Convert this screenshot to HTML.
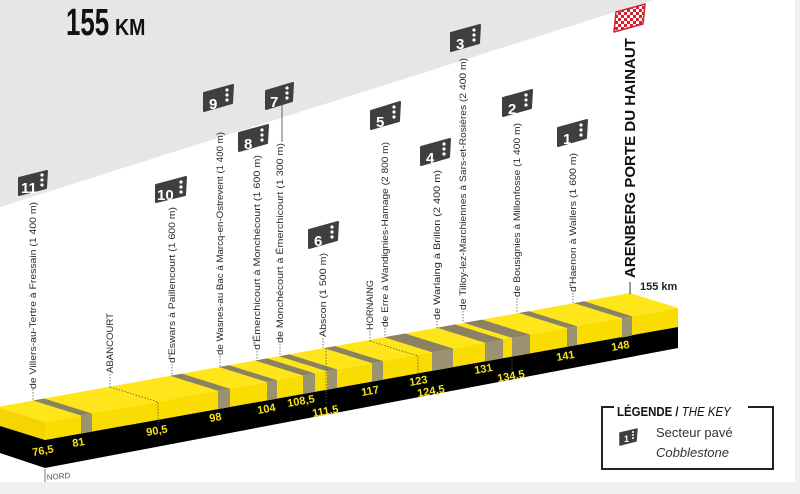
<!DOCTYPE html>
<html><head><meta charset="utf-8"><style>
html,body{margin:0;padding:0;background:#fff;}
svg{display:block;font-family:"Liberation Sans",sans-serif;}
</style></head><body>
<svg width="800" height="494" viewBox="0 0 800 494" xmlns="http://www.w3.org/2000/svg">
<defs>
<pattern id="chk" width="6" height="6" patternUnits="userSpaceOnUse">
<rect width="6" height="6" fill="#fff"/><rect width="3" height="3" fill="#d4202c"/><rect x="3" y="3" width="3" height="3" fill="#d4202c"/>
</pattern>
<g id="dots"><circle cx="0" cy="0" r="1.6" fill="#fff"/><circle cx="0" cy="5" r="1.6" fill="#fff"/><circle cx="0" cy="10" r="1.6" fill="#fff"/></g>
</defs>
<rect width="800" height="494" fill="#fff"/>
<polygon points="0,0 653,0 0,207" fill="#e6e6e6"/>
<rect x="795" y="0" width="5" height="494" fill="#f0f0f0"/>
<rect x="0" y="482" width="800" height="12" fill="#f0f0f0"/>

<!-- title -->
<text x="66" y="35" font-size="38" font-weight="bold" fill="#111" transform="translate(66,0) scale(0.68,1) translate(-66,0)">155</text>
<text x="115" y="35" font-size="23" font-weight="bold" fill="#111" transform="translate(115,0) scale(0.85,1) translate(-115,0)">KM</text>

<!-- profile -->
<polygon points="-3,407 630,293 678,308 45,422" fill="#ffe61a"/>
<polygon points="45,422 678,308 678,327 45,440" fill="#f9dc00"/>
<polygon points="45,440 678,327 678,348 45,468" fill="#000"/>
<polygon points="-3,407 45,422 45,440 -3,425" fill="#f5d400"/>
<polygon points="-3,425 45,440 45,468 -3,452" fill="#000"/>

<g fill="#8a8262">
<polygon points="33,400.5 44,398.5 92,413.5 81,415.5"/>
<polygon points="170,375.8 182,373.7 230,388.7 218,390.8"/>
<polygon points="219,367 229,365.2 277,380.2 267,382"/>
<polygon points="255,360.5 267,358.4 315,373.4 303,375.5"/>
<polygon points="279,356.2 289,354.4 337,369.4 327,371.2"/>
<polygon points="324,348.1 335,346.1 383,361.1 372,363.1"/>
<polygon points="384,337.3 405,333.5 453,348.5 432,352.3"/>
<polygon points="437,327.8 455,324.5 503,339.5 485,342.8"/>
<polygon points="464,322.9 482,319.6 530,334.6 512,337.9"/>
<polygon points="519,313 529,311.2 577,326.2 567,328"/>
<polygon points="574,303.1 584,301.2 632,316.2 622,318.1"/>
</g>
<g fill="#9a9270">
<polygon points="81,415.5 92,413.5 92,431.6 81,433.6"/>
<polygon points="218,390.8 230,388.7 230,407 218,409.1"/>
<polygon points="267,382 277,380.2 277,398.6 267,400.4"/>
<polygon points="303,375.5 315,373.4 315,391.8 303,393.9"/>
<polygon points="327,371.2 337,369.4 337,387.9 327,389.7"/>
<polygon points="372,363.1 383,361.1 383,379.7 372,381.6"/>
<polygon points="432,352.3 453,348.5 453,367.2 432,370.9"/>
<polygon points="485,342.8 503,339.5 503,358.2 485,361.5"/>
<polygon points="512,337.9 530,334.6 530,353.4 512,356.6"/>
<polygon points="567,328 577,326.2 577,345 567,346.8"/>
<polygon points="622,318.1 632,316.2 632,335.6 622,337.6"/>
</g>

<!-- dotted leaders -->
<g stroke="#555" stroke-width="0.8" stroke-dasharray="1.5,1.5" fill="none">
<line x1="33" y1="389" x2="33" y2="400"/>
<line x1="110" y1="374" x2="110" y2="387"/>
<polyline points="110,387 158,402 158,425"/>
<line x1="172" y1="364" x2="172" y2="376"/>
<line x1="220" y1="356" x2="220" y2="367"/>
<line x1="257" y1="351" x2="257" y2="360"/>
<line x1="280" y1="344" x2="280" y2="356"/>
<line x1="323" y1="338" x2="323" y2="348"/>
<line x1="326" y1="348" x2="326" y2="405"/>
<line x1="370" y1="331" x2="370" y2="341"/>
<polyline points="370,341 418,356 418,376"/>
<line x1="385" y1="328" x2="385" y2="337"/>
<line x1="437" y1="321" x2="437" y2="328"/>
<line x1="463" y1="311" x2="463" y2="323"/>
<line x1="517" y1="298" x2="517" y2="313"/>
<line x1="512" y1="356" x2="512" y2="372"/>
<line x1="573" y1="293" x2="573" y2="303"/>
</g>
<line x1="630" y1="282" x2="630" y2="294" stroke="#333" stroke-width="1"/>
<line x1="45" y1="469" x2="45" y2="482" stroke="#555" stroke-width="0.8"/>
<line x1="282" y1="104" x2="282" y2="142" stroke="#444" stroke-width="0.8"/>

<!-- km labels -->
<g fill="#f4e21a" font-size="11" font-weight="bold">
<text x="33" y="456" transform="rotate(-10 33 456)">76,5</text>
<text x="73" y="447" transform="rotate(-10 73 447)">81</text>
<text x="147" y="436" transform="rotate(-10 147 436)">90,5</text>
<text x="210" y="422" transform="rotate(-10 210 422)">98</text>
<text x="258" y="414" transform="rotate(-10 258 414)">104</text>
<text x="288" y="407" transform="rotate(-10 288 407)">108,5</text>
<text x="313" y="417" transform="rotate(-10 313 417)">111,5</text>
<text x="362" y="396" transform="rotate(-10 362 396)">117</text>
<text x="410" y="386" transform="rotate(-10 410 386)">123</text>
<text x="418" y="397" transform="rotate(-10 418 397)">124,5</text>
<text x="475" y="374" transform="rotate(-10 475 374)">131</text>
<text x="498" y="382" transform="rotate(-10 498 382)">134,5</text>
<text x="557" y="361" transform="rotate(-10 557 361)">141</text>
<text x="612" y="351" transform="rotate(-10 612 351)">148</text>
</g>
<text x="47" y="480" font-size="8" fill="#555" transform="rotate(-5 47 480)">NORD</text>
<text x="640" y="290" font-size="11" font-weight="bold" fill="#222">155 km</text>

<!-- vertical labels -->
<g font-size="9.5" fill="#2a2a2a">
<text transform="translate(36,389) rotate(-90)" textLength="187" lengthAdjust="spacingAndGlyphs">de Villers-au-Tertre à Fressain (1 400 m)</text>
<text transform="translate(113,373) rotate(-90)" textLength="60" lengthAdjust="spacingAndGlyphs">ABANCOURT</text>
<text transform="translate(175,363) rotate(-90)" textLength="156" lengthAdjust="spacingAndGlyphs">d'Eswars à Paillencourt (1 600 m)</text>
<text transform="translate(223,355) rotate(-90)" textLength="223" lengthAdjust="spacingAndGlyphs">de Wasnes-au Bac à Marcq-en-Ostrevent (1 400 m)</text>
<text transform="translate(260,350) rotate(-90)" textLength="195" lengthAdjust="spacingAndGlyphs">d'Émerchicourt à Monchécourt (1 600 m)</text>
<text transform="translate(283,343) rotate(-90)" textLength="200" lengthAdjust="spacingAndGlyphs">de Monchécourt à Émerchicourt (1 300 m)</text>
<text transform="translate(326,337) rotate(-90)" textLength="84" lengthAdjust="spacingAndGlyphs">Abscon (1 500 m)</text>
<text transform="translate(373,330) rotate(-90)" textLength="50" lengthAdjust="spacingAndGlyphs">HORNAING</text>
<text transform="translate(388,327) rotate(-90)" textLength="185" lengthAdjust="spacingAndGlyphs">de Erre à Wandignies-Hamage (2 800 m)</text>
<text transform="translate(440,320) rotate(-90)" textLength="150" lengthAdjust="spacingAndGlyphs">de Warlaing à Brillon (2 400 m)</text>
<text transform="translate(466,310) rotate(-90)" textLength="252" lengthAdjust="spacingAndGlyphs">de Tilloy-lez-Marchiennes à Sars-et-Rosières (2 400 m)</text>
<text transform="translate(520,297) rotate(-90)" textLength="174" lengthAdjust="spacingAndGlyphs">de Bousignies à Millonfosse (1 400 m)</text>
<text transform="translate(576,292) rotate(-90)" textLength="139" lengthAdjust="spacingAndGlyphs">d'Haenon à Wallers (1 600 m)</text>
</g>
<text transform="translate(635,278) rotate(-90)" font-size="15" font-weight="bold" fill="#111" textLength="240" lengthAdjust="spacingAndGlyphs">ARENBERG PORTE DU HAINAUT</text>

<!-- flag -->
<polygon points="616,12 645,4 643,24 614,32" fill="url(#chk)" stroke="#d4202c" stroke-width="1.5" stroke-linejoin="round"/>

<!-- badges -->
<g fill="#3f3f3f" stroke="#3f3f3f" stroke-width="2" stroke-linejoin="round">
<polygon points="19,178 47,171 46,188 19,195"/>
<polygon points="156,185 186,177 185,195 156,202"/>
<polygon points="204,93 233,85 232,103 204,111"/>
<polygon points="239,133 268,125 267,143 239,151"/>
<polygon points="266,91 293,83 292,101 266,109"/>
<polygon points="309,230 338,222 337,240 309,248"/>
<polygon points="371,111 400,102 399,121 371,129"/>
<polygon points="421,147 450,139 449,157 421,165"/>
<polygon points="451,33 480,25 479,43 451,51"/>
<polygon points="503,98 532,90 531,108 503,116"/>
<polygon points="558,128 587,120 586,138 558,146"/>
</g>
<g fill="#fff" font-size="15" font-weight="bold">
<text x="21" y="193">11</text>
<text x="157" y="200">10</text>
<text x="209" y="109">9</text>
<text x="244" y="149">8</text>
<text x="270" y="107">7</text>
<text x="314" y="246">6</text>
<text x="376" y="127">5</text>
<text x="426" y="163">4</text>
<text x="456" y="49">3</text>
<text x="508" y="114">2</text>
<text x="563" y="144">1</text>
</g>
<use href="#dots" x="42" y="175"/>
<use href="#dots" x="181" y="182"/>
<use href="#dots" x="227" y="90"/>
<use href="#dots" x="262" y="130"/>
<use href="#dots" x="287" y="88"/>
<use href="#dots" x="332" y="227"/>
<use href="#dots" x="394" y="107"/>
<use href="#dots" x="444" y="144"/>
<use href="#dots" x="474" y="30"/>
<use href="#dots" x="526" y="95"/>
<use href="#dots" x="581" y="125"/>

<!-- legend -->
<rect x="602" y="407" width="171" height="62" fill="none" stroke="#222" stroke-width="2"/>
<rect x="614" y="400" width="134" height="14" fill="#fff"/>
<text x="617" y="416" font-size="13" font-weight="bold" fill="#111" transform="translate(617,0) scale(0.88,1) translate(-617,0)">LÉGENDE / <tspan font-style="italic" font-weight="normal">THE KEY</tspan></text>
<polygon points="620,433 637,429 636,441 620,445" fill="#3f3f3f" stroke="#3f3f3f" stroke-width="1.5" stroke-linejoin="round"/>
<text x="624" y="442" font-size="9" font-weight="bold" fill="#fff">1</text>
<circle cx="633" cy="432" r="1" fill="#fff"/><circle cx="633" cy="435" r="1" fill="#fff"/><circle cx="633" cy="438" r="1" fill="#fff"/>
<text x="656" y="437" font-size="13" fill="#333">Secteur pavé</text>
<text x="656" y="457" font-size="13" font-style="italic" fill="#333">Cobblestone</text>
</svg>
</body></html>
